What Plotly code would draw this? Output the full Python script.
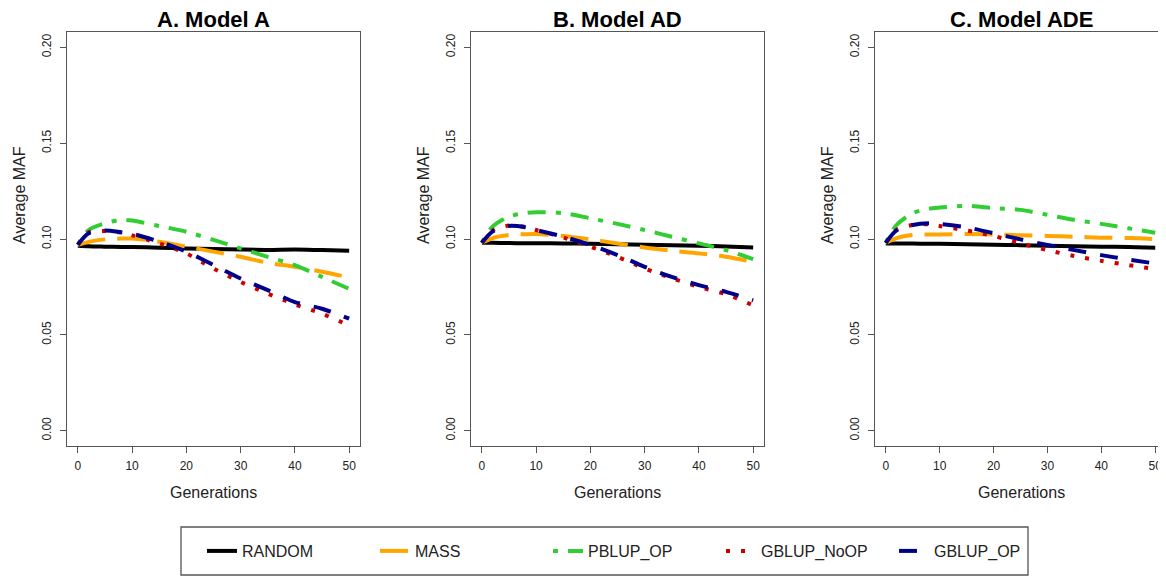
import plotly.graph_objects as go

# ── Data ───────────────────────────────────────────────────────────────────────
GENS = [0, 2, 5, 8, 10, 15, 20, 25, 30, 35, 40, 45, 50]
SERIES = ["RANDOM", "MASS", "PBLUP_OP", "GBLUP_NoOP", "GBLUP_OP"]
PANEL_TITLES = ["A. Model A", "B. Model AD", "C. Model ADE"]

RANDOM_A = [0.0965, 0.0962, 0.0960, 0.0958, 0.0958, 0.0955, 0.0950, 0.0948, 0.0945, 0.0943, 0.0945, 0.0942, 0.0939]
MASS_A = [0.0969, 0.0985, 0.0998, 0.1002, 0.1003, 0.0986, 0.0960, 0.0934, 0.0907, 0.0876, 0.0855, 0.0829, 0.0799]
PBLUP_OP_A = [0.0970, 0.1047, 0.1082, 0.1100, 0.1096, 0.1068, 0.1038, 0.0995, 0.0951, 0.0907, 0.0864, 0.0802, 0.0740]
GBLUP_NOOP_A = [0.0970, 0.1035, 0.1042, 0.1033, 0.1019, 0.0977, 0.0925, 0.0846, 0.0776, 0.0715, 0.0659, 0.0610, 0.0549]
GBLUP_OP_A = [0.0970, 0.1030, 0.1044, 0.1035, 0.1027, 0.0986, 0.0934, 0.0864, 0.0794, 0.0733, 0.0671, 0.0636, 0.0584]

RANDOM_B = [0.0980, 0.0980, 0.0979, 0.0978, 0.0978, 0.0977, 0.0975, 0.0973, 0.0970, 0.0968, 0.0965, 0.0961, 0.0956]
MASS_B = [0.0980, 0.1005, 0.1021, 0.1025, 0.1026, 0.1016, 0.0998, 0.0977, 0.0956, 0.0939, 0.0925, 0.0907, 0.0881]
PBLUP_OP_B = [0.0980, 0.1065, 0.1117, 0.1135, 0.1140, 0.1135, 0.1108, 0.1079, 0.1047, 0.1012, 0.0977, 0.0942, 0.0895]
GBLUP_NOOP_B = [0.0980, 0.1045, 0.1070, 0.1063, 0.1047, 0.1008, 0.0960, 0.0907, 0.0846, 0.0795, 0.0750, 0.0712, 0.0654]
GBLUP_OP_B = [0.0980, 0.1040, 0.1068, 0.1061, 0.1047, 0.1012, 0.0969, 0.0916, 0.0855, 0.0802, 0.0759, 0.0724, 0.0680]

RANDOM_C = [0.0977, 0.0977, 0.0976, 0.0975, 0.0975, 0.0973, 0.0970, 0.0968, 0.0965, 0.0962, 0.0960, 0.0958, 0.0955]
MASS_C = [0.0980, 0.1005, 0.1021, 0.1023, 0.1024, 0.1026, 0.1024, 0.1019, 0.1016, 0.1012, 0.1007, 0.1005, 0.1000]
PBLUP_OP_C = [0.0980, 0.1073, 0.1135, 0.1158, 0.1164, 0.1173, 0.1161, 0.1152, 0.1126, 0.1100, 0.1079, 0.1056, 0.1033]
GBLUP_NOOP_C = [0.0980, 0.1048, 0.1073, 0.1077, 0.1068, 0.1044, 0.1016, 0.0977, 0.0942, 0.0911, 0.0886, 0.0864, 0.0843]
GBLUP_OP_C = [0.0980, 0.1045, 0.1073, 0.1082, 0.1079, 0.1061, 0.1030, 0.0998, 0.0969, 0.0942, 0.0916, 0.0893, 0.0872]

PANELS = [
    [RANDOM_A, MASS_A, PBLUP_OP_A, GBLUP_NOOP_A, GBLUP_OP_A],
    [RANDOM_B, MASS_B, PBLUP_OP_B, GBLUP_NOOP_B, GBLUP_OP_B],
    [RANDOM_C, MASS_C, PBLUP_OP_C, GBLUP_NOOP_C, GBLUP_OP_C],
]

# ── Styles ─────────────────────────────────────────────────────────────────────
COLORS = ["#000000", "#FFA500", "#32CD32", "#CD0000", "#00008B"]
DASHES = ["solid", "28px,12px", "5px,10px,18px,10px", "4px,11px", "18px,14px"]
# page body has an 8px margin, so the figure is 8px smaller than the window
W, H = 1158, 569
FONT = "Liberation Sans, Arial, sans-serif"

# plot frames in figure pixels (left, right), shared top/bottom
X_PIX = [(59, 352), (463, 756), (867, 1158)]
TOP, BOTTOM = 24, 438

fig = go.Figure()
for p, series_vals in enumerate(PANELS):
    ax = "" if p == 0 else str(p + 1)
    for s, name in enumerate(SERIES):
        fig.add_trace(go.Scatter(
            x=GENS, y=series_vals[s], mode="lines", name=name,
            line=dict(color=COLORS[s], width=4, dash=DASHES[s], shape="spline", smoothing=0.8),
            legendgroup=name, showlegend=(p == 0),
            xaxis="x" + ax, yaxis="y" + ax,
        ))

axis_common = dict(
    showline=True, linecolor="#555555", linewidth=1.3, mirror=True,
    ticks="outside", ticklen=6, tickcolor="#555555", tickwidth=1.3,
    showgrid=False, zeroline=False,
    tickfont=dict(family=FONT, size=12, color="#222222"),
)

layout = dict(
    width=W, height=H, margin=dict(l=0, r=0, t=0, b=0),
    plot_bgcolor="white", paper_bgcolor="white",
    font=dict(family=FONT, color="#222222"),
    showlegend=True,
    legend=dict(
        orientation="h", x=194 / W, xanchor="left", y=1 - 543 / H, yanchor="middle",
        bgcolor="rgba(0,0,0,0)", font=dict(family=FONT, size=16, color="#222222"),
        itemwidth=30, entrywidth=128, entrywidthmode="pixels", tracegroupgap=0,
    ),
)
annotations = []
for p, (xl, xr) in enumerate(X_PIX):
    ax = "" if p == 0 else str(p + 1)
    layout["xaxis" + ax] = dict(
        axis_common, domain=[xl / W, xr / W], range=[-2, 52],
        tickvals=[0, 10, 20, 30, 40, 50], ticklabelstandoff=2,
        anchor="y" + ax,
    )
    layout["yaxis" + ax] = dict(
        axis_common, domain=[1 - BOTTOM / H, 1 - TOP / H], range=[-0.008, 0.208],
        tickvals=[0, 0.05, 0.10, 0.15, 0.20], ticktext=["0.00", "0.05", "0.10", "0.15", "0.20"],
        tickangle=-90, ticklabelstandoff=4, anchor="x" + ax,
    )
    cx = (xl + (xl + 293)) / 2
    annotations.append(dict(
        text="<b>" + PANEL_TITLES[p] + "</b>", x=cx / W, y=1 - 12 / H, xref="paper", yref="paper",
        showarrow=False, font=dict(family=FONT, size=22, color="#000000"),
        xanchor="center", yanchor="middle",
    ))
    annotations.append(dict(
        text="Generations", x=cx / W, y=1 - 484 / H, xref="paper", yref="paper",
        showarrow=False, font=dict(family=FONT, size=16, color="#222222"),
        xanchor="center", yanchor="middle",
    ))
    annotations.append(dict(
        text="Average MAF", x=(xl - 47) / W, y=1 - 187 / H, xref="paper", yref="paper",
        showarrow=False, textangle=-90, font=dict(family=FONT, size=16, color="#222222"),
        xanchor="center", yanchor="middle",
    ))
layout["annotations"] = annotations
layout["shapes"] = [dict(
    type="rect", xref="paper", yref="paper",
    x0=173 / W, x1=1020 / W, y0=1 - 567 / H, y1=1 - 519 / H,
    line=dict(color="#555555", width=1.3), fillcolor="rgba(0,0,0,0)",
)]

fig.update_layout(layout)
fig.write_html("out.html")
